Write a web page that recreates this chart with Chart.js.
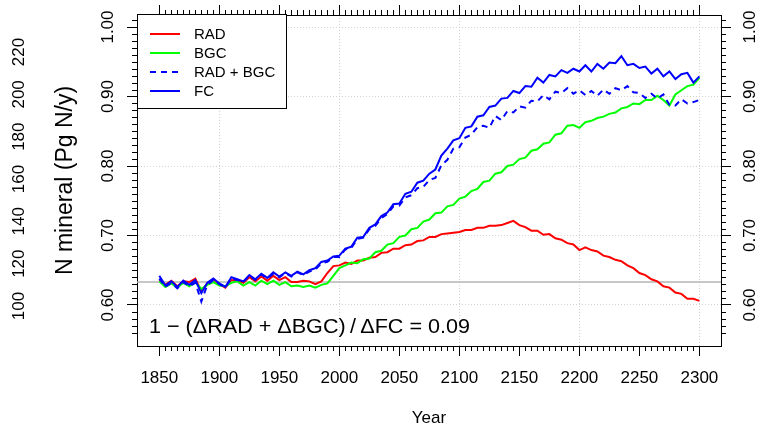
<!DOCTYPE html>
<html>
<head>
<meta charset="utf-8">
<script src="https://cdn.jsdelivr.net/npm/chart.js@4/dist/chart.umd.min.js"></script>
<style>
  html, body { margin: 0; padding: 0; background: #ffffff; }
  #wrap { width: 761px; height: 427px; }
</style>
</head>
<body>
<div id="wrap"><canvas id="chart" width="761" height="427"></canvas></div>
<script>
// Simulation years (5-year steps)
const years = [
  1850, 1855, 1860, 1865, 1870, 1875, 1880, 1885, 1890, 1895,
  1900, 1905, 1910, 1915, 1920, 1925, 1930, 1935, 1940, 1945,
  1950, 1955, 1960, 1965, 1970, 1975, 1980, 1985, 1990, 1995,
  2000, 2005, 2010, 2015, 2020, 2025, 2030, 2035, 2040, 2045,
  2050, 2055, 2060, 2065, 2070, 2075, 2080, 2085, 2090, 2095,
  2100, 2105, 2110, 2115, 2120, 2125, 2130, 2135, 2140, 2145,
  2150, 2155, 2160, 2165, 2170, 2175, 2180, 2185, 2190, 2195,
  2200, 2205, 2210, 2215, 2220, 2225, 2230, 2235, 2240, 2245,
  2250, 2255, 2260, 2265, 2270, 2275, 2280, 2285, 2290, 2295,
  2300
];

// Radiatively coupled run
const rad = [
  0.636, 0.629, 0.635, 0.627, 0.634, 0.633, 0.638, 0.620, 0.631, 0.637,
  0.630, 0.625, 0.636, 0.635, 0.632, 0.640, 0.634, 0.641, 0.635, 0.642,
  0.636, 0.640, 0.633, 0.633, 0.635, 0.634, 0.630, 0.634, 0.646, 0.656,
  0.657, 0.661, 0.659, 0.664, 0.664, 0.668, 0.669, 0.675, 0.676, 0.681,
  0.681, 0.686, 0.687, 0.692, 0.693, 0.698, 0.698, 0.702, 0.703, 0.704,
  0.705, 0.708, 0.708, 0.711, 0.711, 0.714, 0.714, 0.715, 0.718, 0.721,
  0.715, 0.712, 0.707, 0.707, 0.701, 0.702, 0.696, 0.694, 0.689, 0.687,
  0.679, 0.683, 0.679, 0.677, 0.671, 0.669, 0.665, 0.663, 0.657, 0.653,
  0.646, 0.643, 0.637, 0.634, 0.627, 0.625, 0.618, 0.616, 0.609, 0.609,
  0.606
];

// Biogeochemically coupled run
const bgc = [
  0.634, 0.626, 0.631, 0.625, 0.632, 0.627, 0.633, 0.623, 0.629, 0.633,
  0.628, 0.627, 0.632, 0.634, 0.628, 0.633, 0.628, 0.635, 0.630, 0.635,
  0.629, 0.633, 0.627, 0.628, 0.626, 0.628, 0.625, 0.629, 0.631, 0.642,
  0.653, 0.657, 0.661, 0.660, 0.666, 0.667, 0.676, 0.678, 0.687, 0.689,
  0.698, 0.700, 0.709, 0.711, 0.720, 0.723, 0.732, 0.733, 0.742, 0.744,
  0.753, 0.756, 0.764, 0.767, 0.777, 0.779, 0.789, 0.791, 0.800, 0.802,
  0.810, 0.812, 0.822, 0.824, 0.832, 0.834, 0.845, 0.847, 0.858, 0.859,
  0.855, 0.863, 0.865, 0.869, 0.871, 0.875, 0.877, 0.883, 0.885, 0.890,
  0.889, 0.895, 0.895, 0.901, 0.895, 0.887, 0.903, 0.909, 0.915, 0.917,
  0.927
];

// Sum of the two partial responses
const radBgc = [
  0.638, 0.626, 0.632, 0.624, 0.633, 0.627, 0.632, 0.605, 0.629, 0.636,
  0.630, 0.625, 0.638, 0.636, 0.633, 0.642, 0.636, 0.644, 0.638, 0.645,
  0.640, 0.646, 0.641, 0.647, 0.643, 0.648, 0.651, 0.660, 0.662, 0.669,
  0.669, 0.680, 0.682, 0.695, 0.697, 0.709, 0.714, 0.725, 0.731, 0.742,
  0.743, 0.755, 0.758, 0.768, 0.770, 0.780, 0.783, 0.801, 0.809, 0.825,
  0.827, 0.841, 0.845, 0.856, 0.858, 0.855, 0.872, 0.866, 0.879, 0.877,
  0.886, 0.884, 0.894, 0.893, 0.902, 0.896, 0.907, 0.905, 0.912, 0.904,
  0.909, 0.902, 0.908, 0.901, 0.910, 0.904, 0.912, 0.909, 0.915, 0.906,
  0.905, 0.898, 0.904, 0.897, 0.903, 0.888, 0.887, 0.896, 0.890, 0.892,
  0.895
];

// Fully coupled run
const fc = [
  0.642, 0.628, 0.634, 0.626, 0.635, 0.629, 0.636, 0.617, 0.632, 0.638,
  0.631, 0.626, 0.640, 0.637, 0.634, 0.643, 0.637, 0.645, 0.639, 0.647,
  0.641, 0.647, 0.642, 0.648, 0.644, 0.650, 0.653, 0.662, 0.664, 0.670,
  0.671, 0.681, 0.684, 0.697, 0.698, 0.711, 0.716, 0.728, 0.733, 0.745,
  0.746, 0.760, 0.763, 0.776, 0.779, 0.789, 0.795, 0.815, 0.825, 0.837,
  0.840, 0.855, 0.857, 0.871, 0.873, 0.885, 0.887, 0.897, 0.898, 0.908,
  0.905, 0.915, 0.914, 0.927, 0.920, 0.931, 0.929, 0.938, 0.934, 0.940,
  0.936, 0.945, 0.936, 0.947, 0.940, 0.949, 0.948, 0.958, 0.945, 0.947,
  0.941, 0.943, 0.933, 0.940, 0.929, 0.936, 0.925, 0.932, 0.934, 0.920,
  0.929
];

// Pre-industrial reference level
const baseLevel = 0.633;

// Tick labels
const yearTicks = [1850, 1900, 1950, 2000, 2050, 2100, 2150, 2200, 2250, 2300];
const fracTicks = [0.60, 0.70, 0.80, 0.90, 1.00];
const nMineralTicks = [100, 120, 140, 160, 180, 200, 220];

const seriesNames = ['RAD', 'BGC', 'RAD + BGC', 'FC'];
const annotation = '1 \u2212 (\u0394RAD + \u0394BGC)\u2009/\u2009\u0394FC = 0.09';

// Axis ranges
const X_MIN = 1831.4, X_MAX = 2318;
const Y_MIN = 0.541, Y_MAX = 1.0173;
const N_MIN = 81.1, N_MAX = 237.5;

const FONT = '"Liberation Sans", Arial, Helvetica, sans-serif';
const GRID = '#d3d3d3';
const MAJOR_LEN = 10, MINOR_LEN = 5;
const TICK_FONT = { size: 17 };

Chart.defaults.font.family = FONT;
Chart.defaults.color = '#000';

const pts = (arr) => arr.map((v, i) => ({ x: years[i], y: v }));

// Minor tick marks on all four sides of the box
const minorTicks = {
  id: 'minorTicks',
  afterDraw(chart) {
    const { ctx, chartArea: a, scales } = chart;
    ctx.save();
    ctx.strokeStyle = '#000';
    ctx.lineWidth = 1;
    ctx.beginPath();
    for (const yr of years) {
      if (yr % 50 === 0) continue;
      const px = Math.round(scales.x.getPixelForValue(yr)) + 0.5;
      ctx.moveTo(px, a.bottom); ctx.lineTo(px, a.bottom + MINOR_LEN);
      ctx.moveTo(px, a.top); ctx.lineTo(px, a.top - MINOR_LEN);
    }
    for (let k = 56; k <= 101; k++) {
      if (k % 10 === 0) continue;
      const py = Math.round(scales.y.getPixelForValue(k / 100)) + 0.5;
      ctx.moveTo(a.left, py); ctx.lineTo(a.left - MINOR_LEN, py);
      ctx.moveTo(a.right, py); ctx.lineTo(a.right + MINOR_LEN, py);
    }
    ctx.stroke();
    ctx.restore();
  }
};

// Boxed legend in the top-left corner and the attribution formula
const overlay = {
  id: 'overlay',
  afterDatasetsDraw(chart) {
    const { ctx, chartArea: a } = chart;
    const ds = chart.data.datasets;
    ctx.save();
    const lx = a.left + 0.5, ly = a.top - 0.5, lw = 149, lh = 94;
    ctx.fillStyle = '#fff';
    ctx.fillRect(lx, ly, lw, lh);
    ctx.strokeStyle = '#000';
    ctx.lineWidth = 1;
    ctx.strokeRect(lx, ly, lw, lh);
    ctx.font = '15px ' + FONT;
    ctx.textBaseline = 'middle';
    ctx.textAlign = 'left';
    seriesNames.forEach((name, i) => {
      const d = ds.find(s => s.label === name);
      const ry = a.top + 19 + i * 19;
      ctx.save();
      ctx.strokeStyle = d.borderColor;
      ctx.lineWidth = 2;
      ctx.setLineDash(d.borderDash || []);
      ctx.beginPath();
      ctx.moveTo(a.left + 13, ry);
      ctx.lineTo(a.left + 43, ry);
      ctx.stroke();
      ctx.restore();
      ctx.fillStyle = '#000';
      ctx.fillText(name, a.left + 57, ry + 1);
    });
    ctx.font = '21px ' + FONT;
    ctx.textBaseline = 'alphabetic';
    ctx.fillStyle = '#000';
    const w = ctx.measureText(annotation).width;
    ctx.translate(a.left + 12, a.bottom - 13);
    ctx.scale(321 / w, 1);
    ctx.fillText(annotation, 0, 0);
    ctx.restore();
  }
};

const line = (label, data, color, order, dash) => ({
  label, data: pts(data), borderColor: color, borderWidth: 2, borderDash: dash || [],
  pointRadius: 0, tension: 0, fill: false, order
});

new Chart(document.getElementById('chart'), {
  type: 'line',
  data: {
    datasets: [
      line('FC', fc, '#0000ff', 1),
      line('RAD + BGC', radBgc, '#0000ff', 2, [6, 5]),
      line('BGC', bgc, '#00ff00', 3),
      line('RAD', rad, '#ff0000', 4),
      {
        label: 'base', data: [{ x: X_MIN, y: baseLevel }, { x: X_MAX, y: baseLevel }],
        borderColor: '#b4b4b4', borderWidth: 1.5, pointRadius: 0, order: 5
      }
    ]
  },
  options: {
    responsive: false,
    animation: false,
    devicePixelRatio: 1,
    events: [],
    layout: { padding: 0 },
    plugins: { legend: { display: false }, tooltip: { enabled: false } },
    scales: {
      x: {
        type: 'linear', position: 'bottom', min: X_MIN, max: X_MAX,
        afterBuildTicks: s => { s.ticks = yearTicks.map(v => ({ value: v })); },
        afterFit: s => { s.height = 81; },
        ticks: { autoSkip: false, maxRotation: 0, padding: 12, font: TICK_FONT, color: '#000',
                 callback: v => String(v) },
        grid: {
          color: c => (c.tick && c.tick.value % 100 === 0) ? GRID : 'rgba(0,0,0,0)',
          drawTicks: true, tickLength: MAJOR_LEN, tickColor: '#000', tickWidth: 1
        },
        border: { display: true, color: '#000', width: 1, dash: [1, 2] },
        title: { display: true, text: 'Year', font: { size: 17 }, color: '#000', padding: { top: 0, bottom: -2 } }
      },
      xTop: {
        type: 'linear', position: 'top', min: X_MIN, max: X_MAX,
        afterBuildTicks: s => { s.ticks = yearTicks.map(v => ({ value: v })); },
        afterFit: s => { s.height = 15; },
        ticks: { display: false },
        grid: { drawOnChartArea: false, drawTicks: true, tickLength: MAJOR_LEN, tickColor: '#000', color: '#000' },
        border: { display: true, color: '#000', width: 1 }
      },
      y: {
        type: 'linear', position: 'left', weight: 0, min: Y_MIN, max: Y_MAX,
        afterBuildTicks: s => { s.ticks = fracTicks.map(v => ({ value: v })); },
        afterFit: s => { s.width = 101; },
        ticks: { autoSkip: false, minRotation: 90, maxRotation: 90, crossAlign: 'center', padding: 2,
                 font: TICK_FONT, color: '#000', callback: v => v.toFixed(2) },
        grid: { color: GRID, drawTicks: true, tickLength: MAJOR_LEN, tickColor: '#000', tickWidth: 1 },
        border: { display: true, color: '#000', width: 1, dash: [1, 2] }
      },
      yN: {
        type: 'linear', position: 'left', weight: 1, min: N_MIN, max: N_MAX,
        afterBuildTicks: s => { s.ticks = nMineralTicks.map(v => ({ value: v })); },
        afterFit: s => { s.width = 36; },
        ticks: { autoSkip: false, minRotation: 90, maxRotation: 90, crossAlign: 'center', padding: 3,
                 font: TICK_FONT, color: '#000', callback: v => String(v) },
        grid: { display: false, drawTicks: false },
        border: { display: false },
        title: { display: true, text: 'N mineral (Pg N/y)', font: { size: 23 }, color: '#000',
                 padding: { top: 52, bottom: 0 } }
      },
      yR: {
        type: 'linear', position: 'right', min: Y_MIN, max: Y_MAX,
        afterBuildTicks: s => { s.ticks = fracTicks.map(v => ({ value: v })); },
        afterFit: s => { s.width = 40; },
        ticks: { autoSkip: false, minRotation: 90, maxRotation: 90, crossAlign: 'center', padding: 3,
                 font: TICK_FONT, color: '#000', callback: v => v.toFixed(2) },
        grid: { drawOnChartArea: false, drawTicks: true, tickLength: MAJOR_LEN, tickColor: '#000', color: '#000' },
        border: { display: true, color: '#000', width: 1 }
      }
    }
  },
  plugins: [minorTicks, overlay]
});
</script>
</body>
</html>
